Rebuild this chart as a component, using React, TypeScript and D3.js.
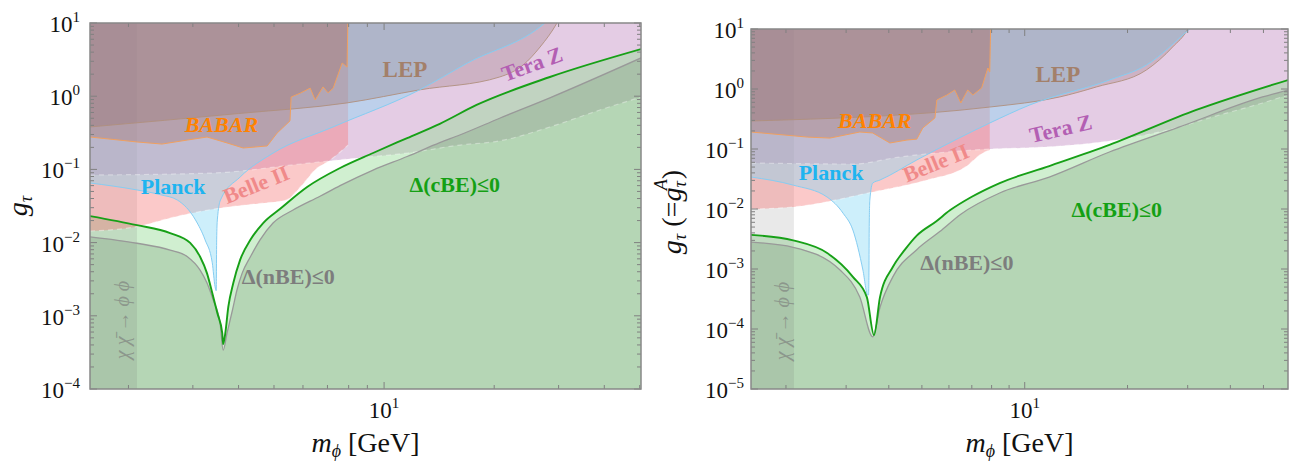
import * as d3 from "d3";

type Pt = [number, number];

const SERIF = "'Liberation Serif', 'Times New Roman', Times, serif";

// ---------------- left panel : g_tau ----------------
const leftXDomain: Pt = [1.57, 50.4];
const leftYDomain: Pt = [1e-4, 10];
const leftChiEdge = 2.11;

// Delta(cBE) <= 0 boundary (green line)
const leftCBE: Pt[] = [
  [1.57, 0.023], [2.11, 0.0173], [2.6, 0.0135], [2.95, 0.0099], [3.14, 0.0064],
  [3.28, 0.0038], [3.39, 0.00205], [3.5, 0.00109], [3.61, 0.00058], [3.63, 0.00041],
  [3.68, 0.00058], [3.75, 0.00132], [3.87, 0.0028], [4.04, 0.0058], [4.31, 0.0109],
  [4.67, 0.0185], [5.2, 0.029], [6.16, 0.0575], [7.58, 0.1045],
  [9.33, 0.1675], [11.56, 0.268], [14.2, 0.42], [17.9, 0.76], [28.4, 1.83], [50.4, 4.4],
];
// Delta(nBE) <= 0 boundary (grey line)
const leftNBE: Pt[] = [
  [1.57, 0.012], [2.11, 0.0098], [2.6, 0.0079], [2.9, 0.0064], [3.14, 0.0042],
  [3.28, 0.0028], [3.41, 0.00164], [3.56, 0.0008], [3.63, 0.00034], [3.72, 0.00058],
  [3.85, 0.0012], [3.96, 0.00225], [4.09, 0.0038], [4.31, 0.0064], [4.58, 0.0109],
  [4.97, 0.0185], [5.64, 0.0279], [6.68, 0.043], [7.58, 0.06], [9.33, 0.098],
  [11.56, 0.15], [14.2, 0.232], [16.1, 0.295], [20.7, 0.5], [28.4, 0.95], [50.4, 3.33],
];
const leftTeraZ: Pt[] = [
  [1.57, 0.0838], [3.41, 0.0893], [5.9, 0.1186], [8.44, 0.143], [11.6, 0.1675],
  [16.1, 0.215], [20.7, 0.245], [28.4, 0.38], [38.9, 0.648], [50.4, 0.975],
];
const leftBelle: Pt[] = [
  [1.57, 0.0144], [2.11, 0.0165], [2.6, 0.0217], [3.57, 0.0297], [4.5, 0.034],
  [5.4, 0.0382], [5.9, 0.0575], [6.56, 0.1045], [6.99, 0.126], [7.97, 0.215],
];
const leftPlanck: Pt[] = [
  [1.57, 0.0652], [2.11, 0.0524], [2.45, 0.045], [2.72, 0.0382], [3.05, 0.0204],
  [3.24, 0.0109], [3.39, 0.0053], [3.45, 0.0025], [3.475, 0.0022], [3.48, 0.004],
  [3.485, 0.0109], [3.5, 0.0204], [3.57, 0.0382], [4.04, 0.0787], [4.97, 0.167],
  [7.25, 0.38], [12.5, 1.22], [16.9, 2.84], [27.5, 10], [30, 15],
];
const leftBabar: Pt[] = [
  [1.57, 0.277], [2.11, 0.237], [2.47, 0.222], [2.9, 0.252], [3.28, 0.277],
  [3.72, 0.23], [4.12, 0.196], [4.79, 0.209], [5.1, 0.314], [5.53, 0.46],
  [5.57, 0.975], [5.9, 1.1], [6.28, 1.29], [6.48, 0.887], [6.81, 1.34],
  [7.03, 1.11], [7.26, 1.29], [7.68, 2.84], [7.92, 2.5], [7.97, 15],
];
const leftLEP: Pt[] = [
  [1.57, 0.38], [4, 0.58], [7.92, 0.81], [12.5, 1.22], [20.7, 1.83], [24, 2.67],
  [26.7, 4.7], [29.7, 10], [31, 15],
];

// ---------------- right panel : g_tau (= g_tau^A) ----------------
const rightXDomain: Pt = [1.58, 59];
const rightYDomain: Pt = [1e-5, 10];
const rightChiEdge = 2.11;

const rightCBE: Pt[] = [
  [1.58, 0.0037], [2.1, 0.003], [2.64, 0.00185], [3.14, 0.00074], [3.45, 0.00034],
  [3.62, 0.000079], [3.77, 0.00034], [4.11, 0.00108], [4.46, 0.0021], [4.83, 0.0036],
  [5.5, 0.0062], [6.04, 0.0095], [7, 0.016], [8.45, 0.0271], [11.8, 0.052],
  [17.7, 0.117], [31.8, 0.447], [59, 1.41],
];
const rightNBE: Pt[] = [
  [1.58, 0.0028], [2.1, 0.0023], [2.88, 0.00096], [3.29, 0.00034], [3.59, 0.000074],
  [3.77, 0.00023], [4.11, 0.00074], [4.83, 0.0021], [5.64, 0.0042], [6.5, 0.0082],
  [8.45, 0.0185], [11.8, 0.0341], [17.7, 0.0891], [28.4, 0.233], [49.7, 0.736],
  [59, 0.962],
];
const rightTeraZ: Pt[] = [
  [1.58, 0.0585], [3.14, 0.0562], [4.31, 0.0736], [7.05, 0.0962], [12.65, 0.112],
  [17.7, 0.136], [24.8, 0.192], [37.2, 0.369], [49.7, 0.585], [59, 0.794],
];
const rightBelle: Pt[] = [
  [1.58, 0.01], [2.1, 0.0108], [3.59, 0.0192], [5.17, 0.0304], [6.7, 0.05],
  [7.54, 0.0858], [7.9, 0.0962],
];
const rightPlanck: Pt[] = [
  [1.58, 0.0341], [2.1, 0.025], [2.64, 0.0158], [2.94, 0.0085], [3.14, 0.00446],
  [3.36, 0.00096], [3.47, 0.000369], [3.49, 0.000369], [3.5, 0.001], [3.505, 0.00446],
  [3.52, 0.0141], [3.59, 0.0271], [3.77, 0.0304], [4.83, 0.0656], [7.9, 0.271],
  [10.34, 0.541], [17.7, 1.41], [22.7, 2.5], [30.4, 10], [33, 15],
];
const rightBabar: Pt[] = [
  [1.58, 0.192], [2.31, 0.158], [2.69, 0.152], [3.29, 0.192], [3.59, 0.185],
  [4.03, 0.126], [4.52, 0.141], [4.83, 0.146], [5.03, 0.224], [5.46, 0.329],
  [5.53, 0.656], [5.92, 0.794], [6.24, 0.962], [6.5, 0.585], [6.81, 0.962],
  [7.05, 0.794], [7.48, 1.04], [7.8, 2.24], [7.9, 1.92], [7.96, 15],
];
const rightLEP: Pt[] = [
  [1.58, 0.293], [7.9, 0.5], [12.65, 0.736], [16.2, 1.08], [22.7, 2.07],
  [27.1, 5.0], [30, 10], [31, 15],
];

// ---------------- styles ----------------
const fills = {
  cbe: "rgba(150,220,150,0.45)",
  nbe: "rgba(100,140,100,0.25)",
  chi: "rgba(110,110,110,0.15)",
  teraz: "rgba(178,110,178,0.35)",
  belle: "rgba(245,120,120,0.4)",
  planck: "rgba(130,215,245,0.4)",
  lep: "rgba(135,100,100,0.25)",
  babar: "rgba(160,100,90,0.3)",
};

type Label = { text: string; at: Pt; color: string; rot?: number; italic?: boolean; size?: number };

const leftLabels: Label[] = [
  { text: "LEP", at: [11.4, 1.83], color: "#a3806a", size: 23 },
  { text: "Tera Z", at: [25.8, 2.2], color: "#b35fb3", rot: -20 },
  { text: "BABAR", at: [3.59, 0.324], color: "#ff8200", italic: true },
  { text: "Planck", at: [2.65, 0.0461], color: "#1eb4f0" },
  { text: "Belle II", at: [4.55, 0.05], color: "#f08a8a", rot: -22 },
  { text: "Δ(cBE)≤0", at: [15.6, 0.0491], color: "#14a014" },
  { text: "Δ(nBE)≤0", at: [5.47, 0.00272], color: "#7d7d7d" },
];
const rightLabels: Label[] = [
  { text: "LEP", at: [12.5, 1.31], color: "#a3806a", size: 23 },
  { text: "Tera Z", at: [12.9, 0.165], color: "#b35fb3", rot: -13 },
  { text: "BABAR", at: [3.64, 0.224], color: "#ff8200", italic: true },
  { text: "Planck", at: [2.71, 0.0304], color: "#1eb4f0" },
  { text: "Belle II", at: [5.6, 0.045], color: "#f08a8a", rot: -22 },
  { text: "Δ(cBE)≤0", at: [18.6, 0.00736], color: "#14a014" },
  { text: "Δ(nBE)≤0", at: [6.77, 0.00096], color: "#7d7d7d" },
];
const leftChiLabel: Pt = [1.92, 0.000877];
const rightChiLabel: Pt = [1.95, 0.000136];

type Frame = { l: number; t: number; r: number; b: number };

type PanelProps = {
  id: string;
  frame: Frame;
  xDomain: Pt;
  yDomain: Pt;
  chiEdge: number;
  cbe: Pt[];
  nbe: Pt[];
  teraz: Pt[];
  belle: Pt[];
  planck: Pt[];
  babar: Pt[];
  lep: Pt[];
  labels: Label[];
  chiLabel: Pt;
  tickGap: number;
  yTitle: React.ReactNode;
  yTitleAt: Pt;
};

const supStr = (e: number) => (e < 0 ? "\u2212" + Math.abs(e) : String(e));

function Panel(p: PanelProps) {
  const { frame, xDomain, yDomain } = p;
  const x = d3.scaleLog().domain(xDomain).range([frame.l, frame.r]);
  const y = d3.scaleLog().domain(yDomain).range([frame.b, frame.t]);
  const px = (d: Pt) => x(d[0]);
  const py = (d: Pt) => y(d[1]);
  const smooth = d3.curveMonotoneX;
  const line = d3.line<Pt>().x(px).y(py).curve(smooth);
  const below = d3.area<Pt>().x(px).y0(frame.b).y1(py).curve(smooth);
  const above = d3.area<Pt>().x(px).y0(frame.t - 5).y1(py).curve(smooth);
  const jag = d3.line<Pt>().x(px).y(py);
  const jagAbove = d3.area<Pt>().x(px).y0(frame.t - 5).y1(py);

  const isDecade = (v: number) => Math.abs(Math.log10(v) - Math.round(Math.log10(v))) < 1e-6;
  const xt = x.ticks().filter((v) => v >= xDomain[0] && v <= xDomain[1]);
  const yt = y.ticks().filter((v) => v >= yDomain[0] * 0.999 && v <= yDomain[1] * 1.001);
  const clip = `url(#${p.id}-clip)`;
  const W = frame.r - frame.l;
  const H = frame.b - frame.t;

  return (
    <g>
      <defs>
        <clipPath id={`${p.id}-clip`}>
          <rect x={frame.l} y={frame.t} width={W} height={H} />
        </clipPath>
      </defs>
      <g clipPath={clip}>
        <path d={above(p.teraz) ?? ""} fill={fills.teraz} />
        <path d={below(p.cbe) ?? ""} fill={fills.cbe} />
        <path d={below(p.nbe) ?? ""} fill={fills.nbe} />
        <rect x={frame.l} y={frame.t} width={x(p.chiEdge) - frame.l} height={H} fill={fills.chi} />
        <path d={above(p.belle) ?? ""} fill={fills.belle} />
        <path d={above(p.planck) ?? ""} fill={fills.planck} />
        <path d={above(p.lep) ?? ""} fill={fills.lep} />
        <path d={jagAbove(p.babar) ?? ""} fill={fills.babar} />

        <path d={line(p.teraz) ?? ""} fill="none" stroke="rgba(255,255,255,0.35)" strokeWidth={1.2} strokeDasharray="5 4" />
        <path d={line(p.belle) ?? ""} fill="none" stroke="rgba(255,255,255,0.4)" strokeWidth={1.2} strokeDasharray="5 4" />
        <path d={line(p.lep) ?? ""} fill="none" stroke="#b0907e" strokeWidth={0.9} />
        <path d={line(p.planck) ?? ""} fill="none" stroke="#86cdf2" strokeWidth={1} />
        <path d={jag(p.babar) ?? ""} fill="none" stroke="#f0a060" strokeWidth={1} />
        <path d={line(p.nbe) ?? ""} fill="none" stroke="#999" strokeWidth={1.3} />
        <path d={line(p.cbe) ?? ""} fill="none" stroke="#17a017" strokeWidth={1.9} />
      </g>

      {/* ticks */}
      <g stroke="#808080" strokeWidth={1}>
        {xt.map((v) => {
          const len = isDecade(v) ? 7 : 4;
          return (
            <g key={`x${v}`}>
              <line x1={x(v)} x2={x(v)} y1={frame.b} y2={frame.b - len} />
              <line x1={x(v)} x2={x(v)} y1={frame.t} y2={frame.t + len} />
            </g>
          );
        })}
        {yt.map((v) => {
          const len = isDecade(v) ? 7 : 4;
          return (
            <g key={`y${v}`}>
              <line x1={frame.l} x2={frame.l + len} y1={y(v)} y2={y(v)} />
              <line x1={frame.r} x2={frame.r - len} y1={y(v)} y2={y(v)} />
            </g>
          );
        })}
      </g>
      <rect x={frame.l} y={frame.t} width={W} height={H} fill="none" stroke="#888" strokeWidth={1.5} />

      {/* tick labels */}
      <g fontFamily={SERIF} fill="#111" fontSize={23}>
        {yt.filter(isDecade).map((v) => (
          <text key={`yl${v}`} x={frame.l - p.tickGap} y={y(v) + 9} textAnchor="end">
            10<tspan fontSize={15} dy={-10}>{supStr(Math.round(Math.log10(v)))}</tspan>
          </text>
        ))}
        {xt.filter(isDecade).map((v) => (
          <text key={`xl${v}`} x={x(v)} y={frame.b + 29} textAnchor="middle">
            10<tspan fontSize={15} dy={-10}>{supStr(Math.round(Math.log10(v)))}</tspan>
          </text>
        ))}
      </g>

      {/* region labels */}
      <g fontFamily={SERIF} fontWeight="bold">
        {p.labels.map((l) => (
          <text
            key={l.text}
            transform={`translate(${x(l.at[0])},${y(l.at[1])}) rotate(${l.rot ?? 0})`}
            textAnchor="middle"
            fill={l.color}
            fontSize={l.size ?? 22}
            fontStyle={l.italic ? "italic" : "normal"}
          >
            {l.text}
          </text>
        ))}
        <text
          transform={`translate(${x(p.chiLabel[0])},${y(p.chiLabel[1])}) rotate(-90)`}
          textAnchor="middle"
          dy="0.35em"
          fontWeight="normal"
          fontStyle="italic"
          fontSize={20}
          fill="rgba(120,120,120,0.6)"
        >
          χ χ̄ → ϕ ϕ
        </text>
      </g>

      {/* axis titles */}
      <g fontFamily={SERIF} fill="#111" fontSize={28}>
        <text x={(frame.l + frame.r) / 2} y={452} textAnchor="middle">
          <tspan fontStyle="italic">m</tspan>
          <tspan fontStyle="italic" fontSize={18} dy={5}>ϕ</tspan>
          <tspan dy={-5}> [GeV]</tspan>
        </text>
        <text transform={`translate(${p.yTitleAt[0]},${p.yTitleAt[1]}) rotate(-90)`} textAnchor="middle">
          {p.yTitle}
        </text>
      </g>
    </g>
  );
}

export default function App() {
  return (
    <svg
      width={1289}
      height={461}
      viewBox="0 0 1289 461"
      style={{ position: "absolute", left: 0, top: 0, background: "#fff" }}
    >
      <Panel
        id="left"
        frame={{ l: 90, t: 23, r: 641, b: 389 }}
        xDomain={leftXDomain}
        yDomain={leftYDomain}
        chiEdge={leftChiEdge}
        cbe={leftCBE}
        nbe={leftNBE}
        teraz={leftTeraZ}
        belle={leftBelle}
        planck={leftPlanck}
        babar={leftBabar}
        lep={leftLEP}
        labels={leftLabels}
        chiLabel={leftChiLabel}
        tickGap={10}
        yTitleAt={[27, 206]}
        yTitle={
          <>
            <tspan fontStyle="italic">g</tspan>
            <tspan fontStyle="italic" fontSize={18} dy={5}>τ</tspan>
          </>
        }
      />
      <Panel
        id="right"
        frame={{ l: 751, t: 29, r: 1288, b: 389 }}
        xDomain={rightXDomain}
        yDomain={rightYDomain}
        chiEdge={rightChiEdge}
        cbe={rightCBE}
        nbe={rightNBE}
        teraz={rightTeraZ}
        belle={rightBelle}
        planck={rightPlanck}
        babar={rightBabar}
        lep={rightLEP}
        labels={rightLabels}
        chiLabel={rightChiLabel}
        tickGap={7}
        yTitleAt={[681, 212]}
        yTitle={
          <>
            <tspan fontStyle="italic">g</tspan>
            <tspan fontStyle="italic" fontSize={18} dy={5}>τ</tspan>
            <tspan dy={-5}> (=</tspan>
            <tspan fontStyle="italic">g</tspan>
            <tspan fontStyle="italic" fontSize={18} dy={5}>τ</tspan>
            <tspan fontStyle="italic" fontSize={18} dx={-9} dy={-19}>A</tspan>
            <tspan dy={14}>)</tspan>
          </>
        }
      />
    </svg>
  );
}
